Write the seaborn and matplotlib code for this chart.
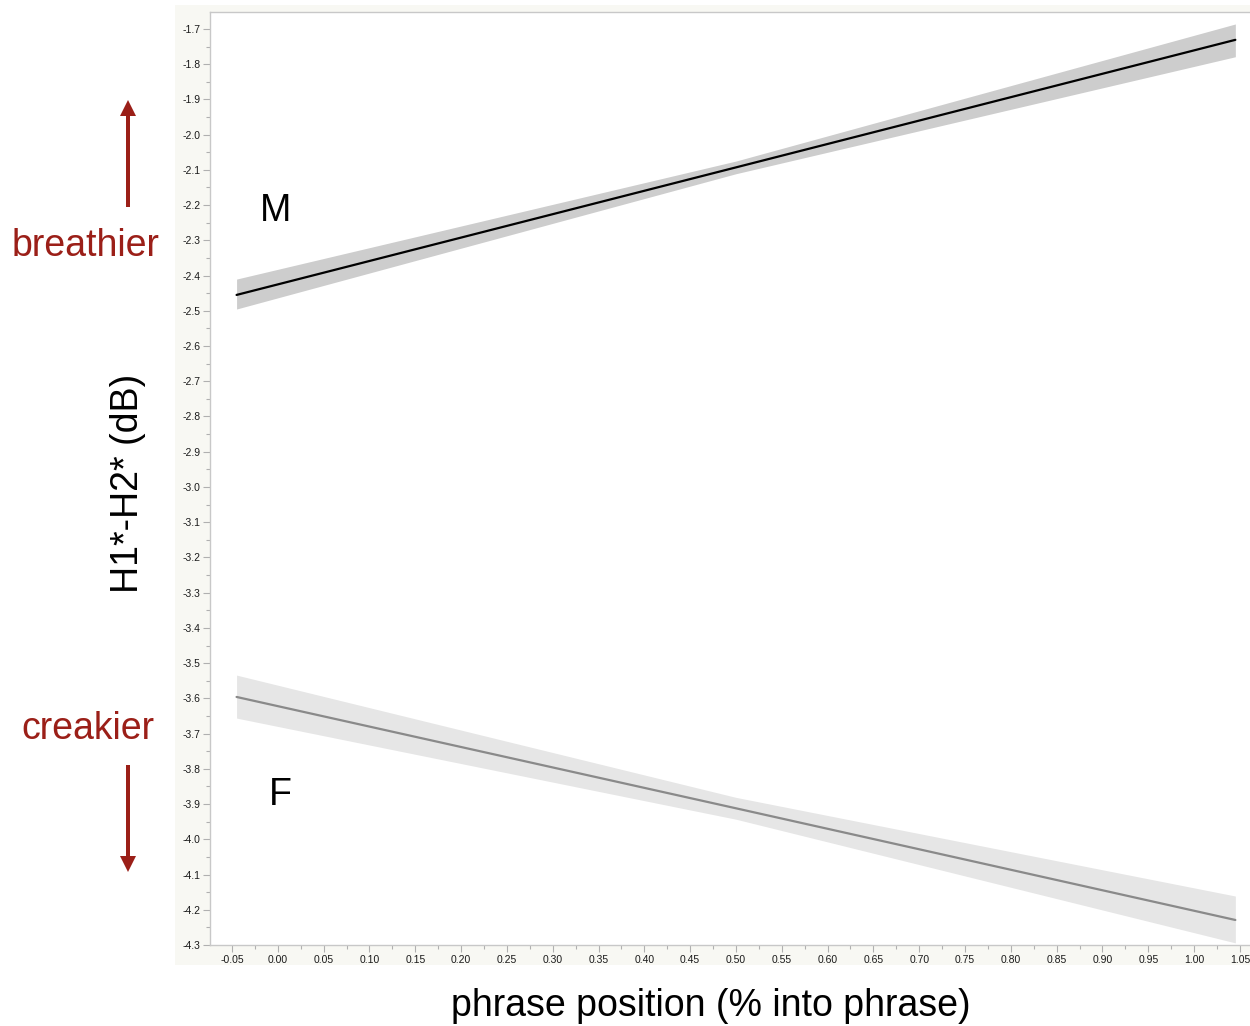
import matplotlib
matplotlib.use("Agg")
import matplotlib.pyplot as plt
import matplotlib.ticker as mticker
from matplotlib.patches import Rectangle, FancyArrow
import numpy as np
import pandas as pd
import seaborn as sns

# fitted lines (start, middle, end of the phrase)
phrase_pos = [-0.045, 0.5, 1.045]
m_fit = [-2.455, -2.093, -1.731]
m_low = [-2.495, -2.111, -1.779]
m_high = [-2.410, -2.075, -1.686]
f_fit = [-3.596, -3.912, -4.229]
f_low = [-3.656, -3.943, -4.294]
f_high = [-3.534, -3.881, -4.161]

y_ticks = np.round(np.arange(-4.3, -1.65, 0.1), 2)
x_ticks = np.round(np.arange(-0.05, 1.051, 0.05), 2)

sns.set_style("white")
plt.rcParams["font.family"] = ["Liberation Sans", "DejaVu Sans"]
plt.rcParams["text.color"] = "black"

df = pd.DataFrame(
    {
        "pos": phrase_pos * 2,
        "value": m_fit + f_fit,
        "sex": ["M"] * 3 + ["F"] * 3,
    }
)

fig = plt.figure(figsize=(12.5, 10.26), dpi=100)
fig.patch.set_facecolor("white")
fig.patches.append(
    Rectangle((175 / 1250, 1 - 965 / 1026), 1 - 175 / 1250, 960 / 1026,
              transform=fig.transFigure, facecolor="#f8f8f3", edgecolor="none",
              zorder=-10)
)
ax = fig.add_axes([210 / 1250, 1 - 945 / 1026, 1 - 210 / 1250, 933 / 1026])
ax.set_zorder(1)
ax.set_facecolor("white")

ax.fill_between(phrase_pos, m_low, m_high, color="#cdcdcd", linewidth=0)
ax.fill_between(phrase_pos, f_low, f_high, color="#e6e6e6", linewidth=0)
sns.lineplot(data=df, x="pos", y="value", hue="sex",
             palette={"M": "black", "F": "#8a8a8a"}, linewidth=1.6,
             legend=False, ax=ax)

ax.set_xlim(-0.074, 1.061)
ax.set_ylim(-4.3, -1.652)
ax.set_xticks(x_ticks)
ax.set_xticklabels([f"{v:.2f}" for v in x_ticks])
ax.set_yticks(y_ticks)
ax.set_yticklabels([f"{v:.1f}" for v in y_ticks])
ax.xaxis.set_minor_locator(mticker.MultipleLocator(0.025))
ax.yaxis.set_minor_locator(mticker.MultipleLocator(0.05))
ax.tick_params(axis="both", which="major", direction="out", length=5, width=0.8,
               color="#b0b0b0", labelsize=7.5, labelcolor="#1a1a1a", pad=2,
               left=True, bottom=True)
ax.tick_params(axis="both", which="minor", direction="out", length=3, width=0.8,
               color="#b0b0b0", left=True, bottom=True)
for side in ["left", "bottom", "top"]:
    ax.spines[side].set_color("#c8c8c8")
    ax.spines[side].set_linewidth(1)
ax.spines["right"].set_visible(False)

ax.set_xlabel("")
ax.set_ylabel("")

ax.text(-0.002, -2.217, "M", fontsize=27, ha="center", va="center")
ax.text(0.003, -3.873, "F", fontsize=27, ha="center", va="center")

fig.text(453 / 1250 + 515 / 2500, 1 - 1006 / 1026, "phrase position (% into phrase)",
         fontsize=27, ha="center", va="center")
fig.text(128 / 1250, 1 - 483 / 1026, "H1*-H2* (dB)", fontsize=27,
         rotation=90, ha="center", va="center")

red = "#9b1f18"
fig.text(86 / 1250, 1 - 246 / 1026, "breathier", fontsize=27, color=red,
         ha="center", va="center")
fig.text(88 / 1250, 1 - 729 / 1026, "creakier", fontsize=27, color=red,
         ha="center", va="center")
fig.patches.append(
    FancyArrow(128 / 1250, 1 - 207 / 1026, 0, 107 / 1026, width=4 / 1250,
               head_width=16 / 1250, head_length=16 / 1026, length_includes_head=True,
               transform=fig.transFigure, color=red, linewidth=0)
)
fig.patches.append(
    FancyArrow(128 / 1250, 1 - 765 / 1026, 0, -107 / 1026, width=4 / 1250,
               head_width=16 / 1250, head_length=16 / 1026, length_includes_head=True,
               transform=fig.transFigure, color=red, linewidth=0)
)

fig.savefig("out.png", dpi=100)
plt.close(fig)
